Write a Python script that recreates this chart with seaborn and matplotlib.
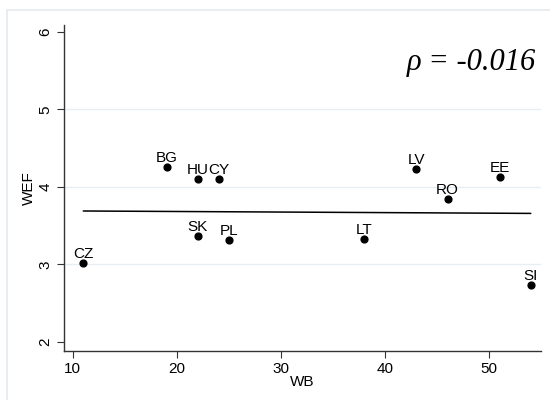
import numpy as np
import pandas as pd
import seaborn as sns
import matplotlib.pyplot as plt
from matplotlib.patches import Rectangle

countries = ["CZ", "BG", "HU", "CY", "SK", "PL", "LT", "LV", "RO", "EE", "SI"]
wb = [11, 19, 22, 24, 22, 25, 38, 43, 46, 51, 54]
wef = [3.01, 4.26, 4.10, 4.10, 3.37, 3.31, 3.32, 4.23, 3.84, 4.13, 2.73]

df = pd.DataFrame({"country": countries, "WB": wb, "WEF": wef})

sns.set_theme(style="white")
plt.rcParams["font.family"] = ["Liberation Sans", "DejaVu Sans"]
plt.rcParams["text.color"] = "black"
plt.rcParams["axes.labelcolor"] = "black"

fig = plt.figure(figsize=(5.5, 4), dpi=100)
ax = fig.add_axes([0.116, 0.1225, 0.868, 0.815])

# outer graph region frame
fig.patches.append(Rectangle((7 / 550, -0.05), 1.1, 1 - 10 / 400 + 0.05,
                             transform=fig.transFigure, fill=False,
                             edgecolor="#e3eaee", linewidth=1.2))

for yv in [3, 4, 5]:
    ax.axhline(yv, color="#e6eef2", linewidth=1, zorder=0)

sns.regplot(data=df, x="WB", y="WEF", ci=None, ax=ax,
            scatter_kws={"s": 24, "color": "black", "alpha": 1, "zorder": 3},
            line_kws={"color": "black", "linewidth": 1.1})

for c, x, y in zip(countries, wb, wef):
    ax.annotate(c, (x, y), xytext=(0, 1.5), textcoords="offset points",
                ha="center", va="bottom", fontsize=11, color="black")

ax.text(0.99, 0.886, "ρ = -0.016", transform=ax.transAxes, ha="right",
        va="center", fontsize=22, fontstyle="italic",
        family=["Liberation Serif", "DejaVu Serif"], color="black")

ax.set_xlim(9.13, 55.0)
ax.set_ylim(1.88, 6.09)
ax.set_xticks([10, 20, 30, 40, 50])
ax.set_yticks([2, 3, 4, 5, 6])
ax.set_yticklabels(["2", "3", "4", "5", "6"], rotation=90, va="center")
ax.set_xlabel("WB", fontsize=11, labelpad=-1)
ax.set_ylabel("WEF", fontsize=11, labelpad=2)

sns.despine(ax=ax)
for s in ["left", "bottom"]:
    ax.spines[s].set_color("#333333")
    ax.spines[s].set_linewidth(1)
ax.tick_params(axis="both", direction="out", length=5, width=0.8,
               color="#333333", labelsize=11, labelcolor="black", pad=3,
               bottom=True, left=True)

fig.savefig("out.png", dpi=100)
